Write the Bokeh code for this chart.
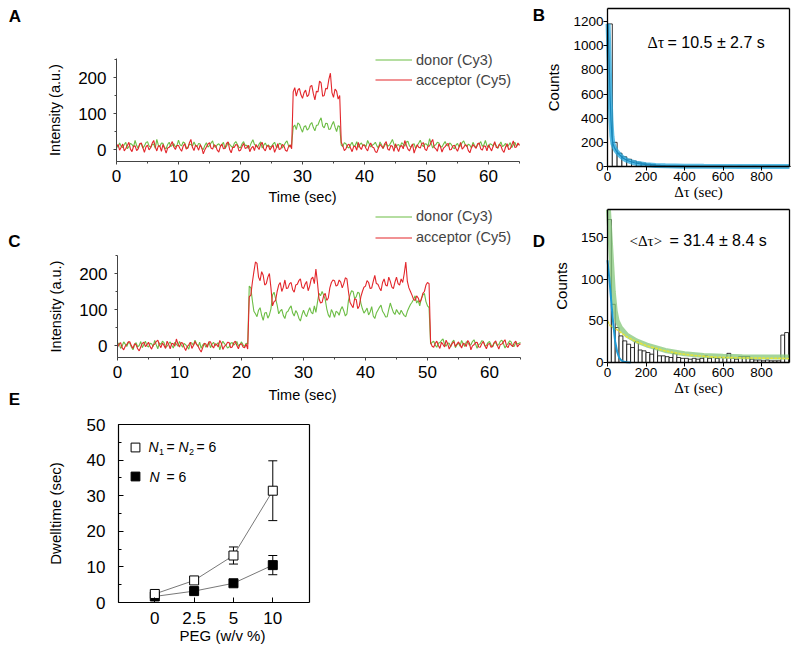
from bokeh.plotting import figure
from bokeh.layouts import column, row
from bokeh.models import (Label, Legend, LegendItem, Range1d, SingleIntervalTicker,
                          FixedTicker, Whisker, TeeHead, ColumnDataSource, LinearAxis)
from bokeh.embed import file_html
from bokeh.resources import INLINE

SANS = "Liberation Sans"
SERIF = "Liberation Serif"
GREEN = "#6cbd45"
RED = "#e3262b"
CYAN = "#22a6dc"

# ---------------- data ----------------
trace_dt = 0.25  # seconds per sample

donor_a = [
    12, 6, 18, 9, 5, 14, 20, 2, 8, 17, 14, 7, 25, 11, 3, 15, 16, 4, 10, 19,
    22, 10, 6, 13, 15, 3, 28, 12, 9, 18, 17, 5, 2, 14, 20, 8, 12, 16, 7, 11,
    26, 13, 10, 21, 18, 6, 4, 15, 14, 9, 21, 12, 8, 17, 15, 3, 0, 11, 19, 7,
    11, 18, 24, 8, 6, 13, 16, 10, 13, 20, 3, 9, 20, 14, 9, 5, 17, 22, 14, 6,
    5, 16, 22, 11, 12, 3, 8, 19, 27, 14, 10, 6, 15, 21, 4, 12, 18, 9, 13, 7,
    9, 15, 20, 8, 6, 17, 16, 4, 11, 19, 24, 10, 7, 13, 62, 68, 55, 74, 70, 58,
    48, 63, 66, 54, 58, 70, 75, 61, 52, 67, 68, 80, 88, 65, 60, 73, 72, 56, 57, 69,
    78, 62, 50, 66, 64, 12, 8, 19, 16, 7, 4, 13, 20, 9, 11, 22, 6, 14, 18, 10,
    13, 8, 25, 16, 7, 12, 15, 20, 10, 4, 21, 13, 3, 11, 17, 9, 12, 19, 28, 15,
    5, 12, 14, 7, 19, 15, 9, 21, 23, 10, 6, 14, 16, 3, 11, 18, 26, 13, 8, 16,
    15, 9, 30, 17, 4, 11, 13, 20, 18, 8, 7, 15, 22, 12, 10, 18, 14, 6, 2, 12,
    17, 7, 11, 19, 24, 13, 8, 15, 12, 4, 20, 11, 5, 14, 16, 22, 9, 13, 25, 10,
    6, 16, 14, 9, 18, 11, 3, 13, 21, 8, 11, 17, 7, 12, 19, 5, 13, 20, 9, 14,
    15]
acceptor_a = [
    8, 14, -2, 6, 15, -4, 3, 11, 20, 1, -6, 9, 10, -3, 2, 16, 18, 5, -8, 7,
    12, -1, 5, 17, 25, 8, -4, 10, 9, -5, 14, 3, -10, 4, 6, 13, 22, 7, 0, 11,
    11, 2, -5, 9, 16, 1, 4, 18, 28, 6, -3, 12, 8, -2, 13, 5, -12, -1, 7, 15,
    19, 4, 1, 13, 10, -2, -7, 8, 15, 2, 3, 17, 21, 0, -9, 6, 6, 14, 12, -4,
    -2, 8, 17, 3, 5, 12, -6, 4, 9, -3, 14, 7, 0, 15, 20, 2, -4, 9, 11, -1,
    6, 12, -8, 3, 16, 0, 2, 14, 10, -2, -5, 8, 13, 2, 160, 172, 148, 165, 170, 152,
    142, 158, 165, 147, 152, 175, 178, 155, 138, 162, 160, 190, 185, 148, 150, 170, 168, 195, 212, 158,
    145, 168, 162, 140, 150, 20, 10, -3, 2, 12, 15, 4, -6, 8, 9, -2, 20, 6, 0, 13,
    12, 3, -4, 10, 18, 7, 5, -6, -8, 4, 14, 9, 3, 16, 22, 1, -2, 11, 9, -5,
    16, 5, -6, 8, 11, 2, 25, 12, 1, -4, 7, 15, -10, 3, 13, 6, 4, 17, 19, 1,
    -3, 9, 10, 20, 28, 6, 2, -5, 15, 8, -7, 4, 8, 14, 17, -1, 0, 10, 12, 3,
    -5, 7, 20, 1, 6, 13, 11, -3, -9, 5, 14, 8, 3, 16, 18, 2, -2, 10, 9, -4,
    13, 4, -4, 9, 22, 6, 5, 15, 10, -2, -8, 7, 16, 0, 2, 12, 24, 6, 7, 18,
    11]
donor_c = [
    2, 7, -8, -2, 10, 4, -3, 9, 6, -5, -12, 1, 8, -4, 0, 11, -6, 3, 12, -1,
    -4, 6, 5, -3, 14, 2, -9, 7, 3, 12, 8, -6, -2, 5, 10, 1, -7, 9, 4, -2,
    11, 3, -5, 6, 2, -4, -10, 8, 7, 0, 15, 4, -3, 9, -8, 2, 6, -5, 1, 10,
    -6, 4, 9, -1, 3, 8, -12, 2, 12, 5, 0, -7, -4, 6, 8, 1, 5, 11, -2, 3,
    10, 2, -3, 6, 4, 165, 160, 125, 95, 88, 80, 98, 105, 84, 70, 90, 92, 76, 85, 102,
    140, 148, 130, 112, 88, 96, 100, 83, 75, 92, 95, 104, 110, 90, 82, 97, 90, 76, 68, 85,
    98, 87, 80, 94, 105, 92, 88, 110, 92, 120, 145, 138, 150, 140, 128, 102, 85, 78, 100, 91,
    78, 95, 92, 84, 100, 108, 96, 82, 88, 125, 140, 152, 150, 130, 135, 148, 145, 118, 102, 90,
    96, 104, 85, 93, 108, 82, 75, 90, 98, 106, 112, 95, 88, 79, 80, 100, 118, 104, 92, 86,
    100, 92, 86, 98, 90, 83, 80, 95, 105, 114, 120, 128, 138, 118, 125, 110, 130, 140, 145, 122,
    110, 105, 4, 9, 12, 1, -5, 6, 8, 14, 18, 3, -2, 7, 6, -4, 10, 15, -6, 2,
    7, -2, 14, 5, -3, 10, 9, 1, 2, 11, 16, 4, -8, 3, 5, 13, 12, -1, 0, 8,
    11, 2, -4, 7, 8, -1, 3, 12, 15, 5, -7, 0, 6, 13, 10, -3, -2, 9, 4, 6,
    8]
acceptor_c = [
    -5, 4, 8, -6, -12, -2, 3, 10, 10, -1, -8, 5, 2, -9, -15, -4, 6, 9, -3, 2,
    9, -3, -10, 1, 4, 11, 15, 2, -6, 7, 0, -8, 12, 3, -9, 6, 5, -2, 18, 4,
    -4, 8, 7, -5, -14, -3, 2, 9, -8, 0, 11, 3, -2, -11, -18, -6, 6, 4, -5, 10,
    10, -1, -7, 5, 3, -4, 14, 6, -11, -2, 1, 9, 8, -6, -4, 7, 12, 0, -9, 3,
    5, -4, -6, 4, -10, 135, 140, 175, 205, 232, 228, 190, 180, 205, 195, 168, 172, 190, 200, 160,
    110, 122, 125, 150, 168, 175, 150, 162, 182, 158, 160, 172, 175, 155, 148, 168, 170, 180, 185, 162,
    158, 170, 178, 152, 165, 185, 190, 172, 212, 175, 130, 118, 120, 138, 145, 125, 132, 160, 175, 182,
    180, 165, 168, 182, 176, 160, 172, 188, 185, 150, 120, 112, 105, 130, 128, 102, 110, 135, 150, 162,
    165, 180, 175, 158, 160, 178, 195, 172, 170, 160, 152, 175, 185, 168, 165, 190, 178, 162, 158, 176,
    190, 172, 168, 185, 175, 200, 232, 178, 160, 150, 140, 128, 125, 138, 132, 120, 128, 145, 150, 168,
    175, 172, 8, -2, -5, 6, 12, 0, -8, 9, 3, -4, 15, 5, -10, -1, 6, 11, -3, 4,
    10, 2, -7, 6, 4, -3, 14, 7, -12, -1, 2, 8, 9, -4, -5, 5, 11, 0, -9, 3,
    6, -5, -2, 8, 13, 1, -10, 3, 4, 10, 16, -2, -6, 7, 1, -3, 8, 12, -4, 2,
    5]

# panel B histogram (25 s bins) and fit
b_bin_width = 25
b_counts = [1180, 200, 110, 80, 60, 45, 35, 27, 20, 15,
            11, 8, 6, 5, 4, 3, 3, 2, 2, 1,
            1, 1, 1, 1, 0, 1, 0, 1, 0, 0,
            1, 0, 0, 1, 0, 0, 0, 1]
b_fit_t = [3, 8, 13, 18, 23, 28, 35, 45, 60, 80, 100, 125, 150, 200, 250, 300, 400, 500, 700, 945]
b_fit_n = [1180, 900, 600, 380, 250, 190, 160, 130, 100, 70, 52, 37, 27, 15, 9, 6, 3, 2, 1, 0.5]

# panel D histogram (20 s bins) and fits
d_bin_width = 20
d_counts = [172, 70, 42, 32, 26, 22, 18, 25, 15, 14,
            12, 10, 17, 8, 8, 7, 6, 11, 6, 5,
            5, 4, 5, 4, 5, 8, 5, 6, 5, 6,
            6, 11, 5, 4, 7, 7, 7, 4, 3, 3,
            2, 3, 2, 2, 2, 33, 36]
d_total_t = [5, 10, 20, 30, 40, 50, 67, 100, 150, 205, 300, 400, 500, 600, 700, 800, 945]
d_total_n = [184, 165, 125, 85, 62, 50, 42, 33, 26, 21, 14.5, 10.5, 8.5, 7.5, 7, 6.7, 6.5]
d_slow_t = [0, 15, 40, 67, 100, 150, 205, 300, 378, 450, 550, 700, 945]
d_slow_n = [50, 44, 41, 36.5, 31, 25, 20, 14, 10.5, 8.5, 6.5, 5.5, 4.8]
d_fast_t = [0, 10, 20, 25, 30, 40, 50, 60, 70, 80, 100, 120]
d_fast_n = [123, 100, 72, 59, 46, 25, 13, 6, 3, 1.2, 0.3, 0]

# panel E
peg_labels = ["0", "2.5", "5", "10"]
dwell_two = [2.4, 6.2, 13.2, 31.4]
dwell_two_err = [0.8, 0.8, 2.4, 8.4]
dwell_one = [1.7, 3.2, 5.4, 10.5]
dwell_one_err = [0.5, 0.6, 0.9, 2.7]


# ---------------- helpers ----------------
def make_fig(rect, ox, kx, oy, ky):
    """rect = (left, top, width, height) of the canvas on the page.
    ox/oy: canvas pixel of data value 0; kx/ky: pixels per data unit."""
    left, top, w, h = rect
    p = figure(width=w, height=h,
               x_range=Range1d(-ox / kx, (w - ox) / kx),
               y_range=Range1d((oy - h) / ky, oy / ky),
               output_backend="svg", toolbar_location=None, tools="",
               min_border=0, min_border_left=0, min_border_right=0,
               min_border_top=0, min_border_bottom=0)
    p.grid.visible = False
    p.outline_line_color = None
    p.background_fill_color = "white"
    p.border_fill_color = "white"
    p._rect = rect
    return p


def text(p, s, px, py, size, font=SANS, style="normal", align="left", baseline="middle"):
    left, top, w, h = p._rect
    p.add_layout(Label(x=px - left, y=top + h - py, x_units="screen", y_units="screen",
                       text=s, text_font=font, text_font_size=size, text_font_style=style,
                       text_align=align, text_baseline=baseline, text_color="black"))


def style_axis(ax, tick_size, label_size):
    ax.major_label_text_font = SANS
    ax.major_label_text_font_size = tick_size
    ax.major_label_text_color = "black"
    ax.axis_label_text_font = SANS
    ax.axis_label_text_font_size = label_size
    ax.axis_label_text_font_style = "normal"
    ax.axis_label_text_color = "black"


def box_sides(p, xmax, ymax, xmin=0, ymin=0, width=1.3):
    ra = LinearAxis(fixed_location=xmax, bounds=(ymin, ymax), ticker=FixedTicker(ticks=[]),
                    axis_line_color="black", axis_line_width=width)
    ta = LinearAxis(fixed_location=ymax, bounds=(xmin, xmax), ticker=FixedTicker(ticks=[]),
                    axis_line_color="black", axis_line_width=width)
    p.add_layout(ra, "right")
    p.add_layout(ta, "above")


def trace_panel(rect, ox, oy, donor, acceptor, ytop, leg_bottom, leg_spacing):
    p = make_fig(rect, ox, 6.2, oy, 0.36)
    t_d = [i * trace_dt for i in range(len(donor))]
    t_a = [i * trace_dt for i in range(len(acceptor))]
    rg = p.line(t_d, donor, color=GREEN, line_width=1.1)
    rr = p.line(t_a, acceptor, color=RED, line_width=1.1)
    xa, ya = p.xaxis[0], p.yaxis[0]
    xa.fixed_location = -33.3
    xa.bounds = (0, 65)
    ya.fixed_location = 0
    ya.bounds = (-33.3, ytop)
    xa.ticker = SingleIntervalTicker(interval=10, num_minor_ticks=2)
    ya.ticker = SingleIntervalTicker(interval=100, num_minor_ticks=2)
    ya.axis_label = "Intensity (a.u.)"
    for ax in (xa, ya):
        style_axis(ax, "17px", "14.5px")
        ax.axis_line_color = "#444"
        ax.major_tick_line_color = "#444"
        ax.minor_tick_line_color = "#444"
        ax.major_tick_out = 3
        ax.major_tick_in = 0
        ax.minor_tick_out = 2
        ax.minor_tick_in = 0
    xa.major_label_standoff = 6
    ya.major_label_standoff = 7
    ya.axis_label_standoff = 12
    left, top, w, h = rect
    leg = Legend(items=[LegendItem(label="donor (Cy3)", renderers=[rg]),
                        LegendItem(label="acceptor (Cy5)", renderers=[rr])],
                 location=(375 - left, top + h - leg_bottom), glyph_width=37, glyph_height=17,
                 label_height=17, spacing=leg_spacing, padding=0, margin=0, label_standoff=4,
                 border_line_alpha=0, background_fill_alpha=0,
                 label_text_font=SANS, label_text_font_size="14.5px")
    p.add_layout(leg)
    return p


def hist_panel(rect, oy, ky, ymax):
    p = make_fig(rect, 79, 182 / 945, oy, ky)
    xa, ya = p.xaxis[0], p.yaxis[0]
    xa.fixed_location = 0
    xa.bounds = (0, 945)
    ya.fixed_location = 0
    ya.bounds = (0, ymax)
    xa.ticker = SingleIntervalTicker(interval=200)
    xa.axis_label = "Δτ (sec)"
    ya.axis_label = "Counts"
    for ax in (xa, ya):
        style_axis(ax, "13.5px", "15px")
        ax.axis_line_color = "black"
        ax.axis_line_width = 1.3
        ax.major_tick_line_color = "black"
        ax.major_tick_out = 4
        ax.major_tick_in = 0
        ax.minor_tick_line_color = None
    xa.axis_label_text_font = SERIF
    xa.major_label_standoff = 1
    xa.axis_label_standoff = 0
    ya.major_label_standoff = 0
    ya.axis_label_standoff = 8
    box_sides(p, 945, ymax)
    return p


# ---------------- panel A ----------------
pA = trace_panel((0, 0, 528, 205), 116, 149, donor_a, acceptor_a, 253, 88, 3)
text(pA, "A", 14.5, 15.5, "17px", style="bold", align="center")
text(pA, "Time (sec)", 302, 196, "14.5px", align="center")

# ---------------- panel B ----------------
pB = hist_panel((528, 0, 272, 205), 166, 145 / 1200, 1307)
pB.yaxis[0].ticker = SingleIntervalTicker(interval=200)
b_left = [i * b_bin_width for i in range(len(b_counts))]
b_right = [x + b_bin_width for x in b_left]
pB.quad(left=b_left, right=b_right, bottom=0, top=b_counts,
        fill_color="white", line_color="black", line_width=0.8)
pB.line(b_fit_t, b_fit_n, color=CYAN, line_width=5, line_alpha=0.75)
pB.line(b_fit_t, b_fit_n, color="#1787bd", line_width=1.2)
text(pB, "B", 538.5, 15, "17px", style="bold", align="center")
text(pB, "Δτ", 647, 42, "16px", font=SERIF)
text(pB, "= 10.5 ± 2.7 s", 667, 42, "16px")

# ---------------- panel C ----------------
pC = trace_panel((0, 205, 528, 204), 117, 140, donor_c, acceptor_c, 250, 245.5, 4)
text(pC, "C", 14, 240.5, "17px", style="bold", align="center")
text(pC, "E", 14, 398.5, "17px", style="bold", align="center")
text(pC, "Time (sec)", 302, 394, "14.5px", align="center")

# ---------------- panel D ----------------
pD = hist_panel((528, 205, 272, 204), 157, 0.8313, 184)
pD.yaxis[0].ticker = SingleIntervalTicker(interval=50)
d_left = [i * d_bin_width for i in range(len(d_counts))]
d_right = [x + d_bin_width for x in d_left]
pD.quad(left=d_left, right=d_right, bottom=0, top=d_counts,
        fill_color="white", line_color="black", line_width=0.8)
pD.line(d_total_t, d_total_n, color="#84c77a", line_width=5, line_alpha=0.75)
pD.line(d_slow_t, d_slow_n, color="#e4e43a", line_width=1.6, line_dash="3 1")
pD.line(d_fast_t, d_fast_n, color="#1c9ad6", line_width=2)
text(pD, "D", 538.5, 240.5, "17px", style="bold", align="center")
text(pD, "<Δτ>", 629, 240, "15px", font=SERIF)
text(pD, "= 31.4 ± 8.4 s", 669, 240, "16px")

# ---------------- panel E ----------------
pE = make_fig((0, 409, 320, 241), 154.3, 39.33, 193, 3.56)
pos = list(range(len(peg_labels)))
pE.line(pos, dwell_two, color="#555555", line_width=0.8)
pE.line(pos, dwell_one, color="#555555", line_width=0.8)
for means, errs in ((dwell_two, dwell_two_err), (dwell_one, dwell_one_err)):
    src = ColumnDataSource(dict(x=pos, lo=[m - e for m, e in zip(means, errs)],
                                hi=[m + e for m, e in zip(means, errs)]))
    pE.add_layout(Whisker(source=src, base="x", lower="lo", upper="hi",
                          line_color="black", line_width=1,
                          lower_head=TeeHead(size=9, line_color="black", line_width=1),
                          upper_head=TeeHead(size=9, line_color="black", line_width=1)))
r_fill = pE.scatter(pos, dwell_one, marker="square", size=9,
                    fill_color="black", line_color="black")
r_open = pE.scatter(pos, dwell_two, marker="square", size=9,
                    fill_color="white", line_color="black", line_width=1)
e_xmin, e_xmax = -0.923, 3.933
xa, ya = pE.xaxis[0], pE.yaxis[0]
xa.fixed_location = 0
xa.bounds = (e_xmin, e_xmax)
ya.fixed_location = e_xmin
ya.bounds = (0, 50)
xa.ticker = FixedTicker(ticks=pos)
xa.major_label_overrides = {i: lab for i, lab in enumerate(peg_labels)}
ya.ticker = SingleIntervalTicker(interval=10, num_minor_ticks=2)
ya.axis_label = "Dwelltime (sec)"
for ax in (xa, ya):
    style_axis(ax, "17px", "15px")
    ax.axis_line_color = "black"
    ax.axis_line_width = 1.2
    ax.major_tick_line_color = "black"
    ax.minor_tick_line_color = "black"
    ax.major_tick_out = 0
    ax.major_tick_in = 5
    ax.minor_tick_out = 0
    ax.minor_tick_in = 3
xa.minor_tick_line_color = None
xa.major_label_standoff = 9
ya.major_label_standoff = 13
ya.axis_label_standoff = 20
box_sides(pE, e_xmax, 50, xmin=e_xmin, width=1.2)
text(pE, "PEG (w/v %)", 222, 635, "15px", align="center")
legE = Legend(items=[LegendItem(label=" ", renderers=[r_open]),
                     LegendItem(label=" ", renderers=[r_fill])],
              location=(124, 650 - 487), glyph_width=22, glyph_height=22, label_height=22,
              spacing=7, padding=0, margin=0, label_standoff=0,
              border_line_alpha=0, background_fill_alpha=0, label_text_font_size="4px")
pE.add_layout(legE)
for s, x, y, size, style in (("N", 148, 446.7, "14px", "italic"), ("1", 158.5, 451, "9px", "normal"),
                             ("=", 166, 446.7, "14px", "normal"), ("N", 178, 446.7, "14px", "italic"),
                             ("2", 188.5, 451, "9px", "normal"), ("= 6", 196, 446.7, "14px", "normal"),
                             ("N", 149, 476, "14px", "italic"), ("= 6", 166, 476, "14px", "normal")):
    text(pE, s, x, y, size, style=style)

layout = column(row(pA, pB), row(pC, pD), pE)
open("out.html", "w").write(file_html(layout, INLINE))
